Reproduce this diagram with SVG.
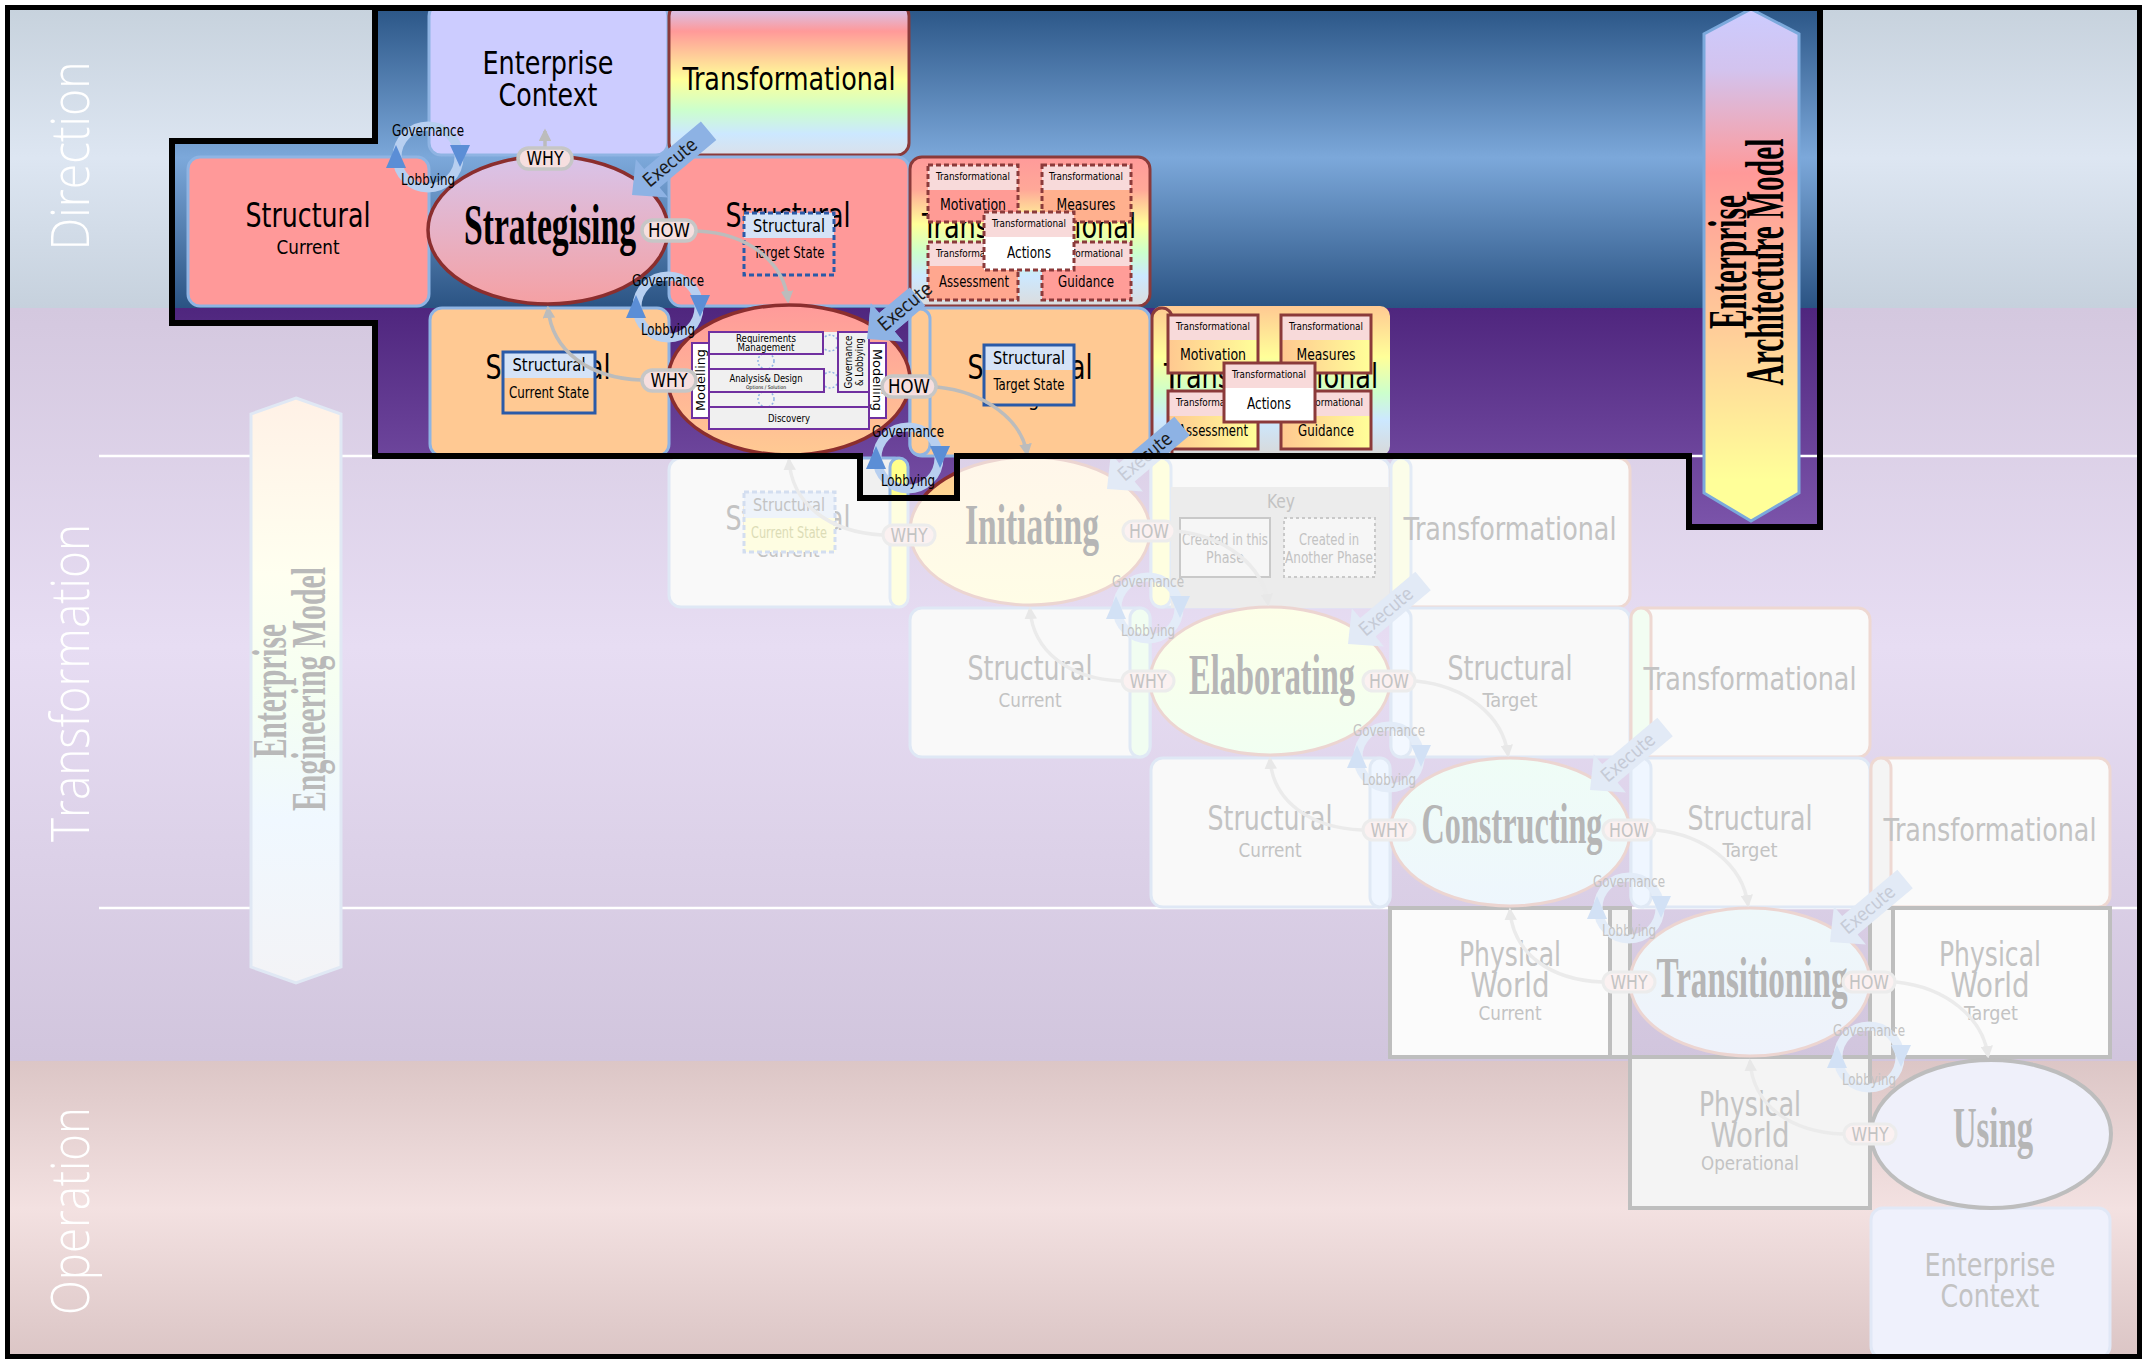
<svg xmlns="http://www.w3.org/2000/svg" width="2147" height="1360" viewBox="0 0 2147 1360">
<style>
.sn{font-family:"Liberation Sans Narrow","DejaVu Sans Condensed","Liberation Sans",Arial,sans-serif;text-anchor:middle}
.sf{font-family:"Liberation Serif","DejaVu Serif","Times New Roman",serif;font-weight:bold;text-anchor:middle}
.bd{font-family:"Open Sans","Liberation Sans",sans-serif;font-weight:300;text-anchor:middle;fill:#ffffff}
.bx{stroke:#8fb4e3;stroke-width:3}
.fbx{fill:#f9f9f9;stroke:#dfe8f5;stroke-width:3}
.ftr{fill:#fafafa;stroke:#eed8d2;stroke-width:3}
.ft{fill:#c3c3c3}
.dr{fill:none;stroke:#8b3a3a;stroke-width:3}
.drd{fill:none;stroke:#8b3a3a;stroke-width:3;stroke-dasharray:5 3}
.pill{fill:#f6dfdf;stroke:#c6c6c6;stroke-width:3.5}
.fpill{fill:#fbf1f1;stroke:#ececec;stroke-width:3}
.con{fill:none;stroke:#bcbcbc;stroke-width:3.5}
.fcon{fill:none;stroke:#ebebeb;stroke-width:3.5}
.ring{fill:none;stroke:#b7cff0;stroke-width:9}
.fring{fill:none;stroke:#e3ecf8;stroke-width:9}
.tri{fill:#5b8ed6}
.ftri{fill:#d2e1f5}
.ex{fill:#8db2e4}
.fex{fill:#e2eaf6}
.pb{fill:#f0f0f0;stroke:#7030a0;stroke-width:2}
.pw{fill:#ffffff;stroke:#7030a0;stroke-width:2}
.phys{fill:#fbfbfb;stroke:#bebebe;stroke-width:4}
</style>
<defs>
  <linearGradient id="bgDir" x1="0" y1="0" x2="0" y2="1">
    <stop offset="0" stop-color="#c7d2dd"/><stop offset="0.5" stop-color="#dde6f2"/><stop offset="1" stop-color="#c6d1dd"/>
  </linearGradient>
  <linearGradient id="bgTra" x1="0" y1="0" x2="0" y2="1">
    <stop offset="0" stop-color="#d4c8df"/><stop offset="0.45" stop-color="#e7ddf3"/><stop offset="1" stop-color="#d1c5dd"/>
  </linearGradient>
  <linearGradient id="bgOp" x1="0" y1="0" x2="0" y2="1">
    <stop offset="0" stop-color="#dcc6c6"/><stop offset="0.5" stop-color="#f3e1e1"/><stop offset="1" stop-color="#dbc5c5"/>
  </linearGradient>
  <linearGradient id="hlBlue" gradientUnits="userSpaceOnUse" x1="0" y1="8" x2="0" y2="308">
    <stop offset="0" stop-color="#2b5687"/><stop offset="0.5" stop-color="#7ca8da"/><stop offset="1" stop-color="#2a5383"/>
  </linearGradient>
  <linearGradient id="hlPurple" gradientUnits="userSpaceOnUse" x1="0" y1="308" x2="0" y2="527">
    <stop offset="0" stop-color="#4f267e"/><stop offset="1" stop-color="#7b54aa"/>
  </linearGradient>
  <linearGradient id="gStrat" x1="0" y1="0" x2="0" y2="1">
    <stop offset="0" stop-color="#d8c4ea"/><stop offset="1" stop-color="#f5a0a3"/>
  </linearGradient>
  <linearGradient id="gModel" x1="0" y1="0" x2="0" y2="1">
    <stop offset="0" stop-color="#ff9a9a"/><stop offset="1" stop-color="#ffca93"/>
  </linearGradient>
  <linearGradient id="gInit" x1="0" y1="0" x2="0" y2="1">
    <stop offset="0" stop-color="#ffc993"/><stop offset="1" stop-color="#ffff99"/>
  </linearGradient>
  <linearGradient id="rbTop" x1="0" y1="0" x2="0" y2="1">
    <stop offset="0" stop-color="#ccccff"/><stop offset="0.18" stop-color="#ff9999"/><stop offset="0.34" stop-color="#ffcc99"/><stop offset="0.5" stop-color="#ffff99"/><stop offset="0.7" stop-color="#ccffcc"/><stop offset="0.86" stop-color="#cce8ff"/><stop offset="1" stop-color="#dae0ea"/>
  </linearGradient>
  <linearGradient id="rbRed" x1="0" y1="0" x2="0" y2="1">
    <stop offset="0" stop-color="#ff9a9a"/><stop offset="0.22" stop-color="#ffa898"/><stop offset="0.45" stop-color="#ffff99"/><stop offset="0.64" stop-color="#ccffcc"/><stop offset="0.8" stop-color="#cce8ff"/><stop offset="1" stop-color="#dcdcdc"/>
  </linearGradient>
  <linearGradient id="rbPeach" x1="0" y1="0" x2="0" y2="1">
    <stop offset="0" stop-color="#ffc993"/><stop offset="0.34" stop-color="#ffff99"/><stop offset="0.58" stop-color="#ccffcc"/><stop offset="0.76" stop-color="#cce8ff"/><stop offset="1" stop-color="#d8d8d8"/>
  </linearGradient>
  <linearGradient id="subPeach" x1="0" y1="0" x2="1" y2="0">
    <stop offset="0" stop-color="#ffc890"/><stop offset="1" stop-color="#ffff99"/>
  </linearGradient>
  <linearGradient id="gEam" x1="0" y1="0" x2="0" y2="1">
    <stop offset="0" stop-color="#ccccff"/><stop offset="0.12" stop-color="#d3c3ee"/><stop offset="0.32" stop-color="#ff9999"/><stop offset="0.62" stop-color="#ffcc99"/><stop offset="0.92" stop-color="#ffff99"/><stop offset="1" stop-color="#ffff99"/>
  </linearGradient>
  <linearGradient id="gEem" x1="0" y1="0" x2="0" y2="1">
    <stop offset="0" stop-color="#fff1e6"/><stop offset="0.3" stop-color="#fffff0"/><stop offset="0.5" stop-color="#f5fff2"/><stop offset="0.72" stop-color="#f0f8ff"/><stop offset="1" stop-color="#f3f3f6"/>
  </linearGradient>
  <linearGradient id="fInit" x1="0" y1="0" x2="0" y2="1">
    <stop offset="0" stop-color="#fff6ea"/><stop offset="1" stop-color="#fffde6"/>
  </linearGradient>
  <linearGradient id="fElab" x1="0" y1="0" x2="0" y2="1">
    <stop offset="0" stop-color="#fdffe8"/><stop offset="1" stop-color="#f1fff2"/>
  </linearGradient>
  <linearGradient id="fCons" x1="0" y1="0" x2="0" y2="1">
    <stop offset="0" stop-color="#effdf6"/><stop offset="1" stop-color="#eef6fd"/>
  </linearGradient>
  <linearGradient id="fTran" x1="0" y1="0" x2="0" y2="1">
    <stop offset="0" stop-color="#eef8fa"/><stop offset="1" stop-color="#eef2fb"/>
  </linearGradient>
  <marker id="arr" viewBox="0 0 10 10" refX="8" refY="5" markerWidth="3.6" markerHeight="3.6" orient="auto">
    <path d="M0,0 L10,5 L0,10 Z" fill="#bcbcbc"/>
  </marker>
  <marker id="farr" viewBox="0 0 10 10" refX="8" refY="5" markerWidth="3.6" markerHeight="3.6" orient="auto">
    <path d="M0,0 L10,5 L0,10 Z" fill="#e8e8e8"/>
  </marker>
  <clipPath id="hlClip">
    <path d="M375,8 H1820 V527 H1689 V456 H957 V498 H860 V456 H375 V323 H172 V141 H375 Z"/>
  </clipPath>
</defs>

<!-- swimlane bands -->
<g id="bands">
  <rect x="8" y="8" width="2132" height="300" fill="url(#bgDir)"/>
  <rect x="8" y="308" width="2132" height="753" fill="url(#bgTra)"/>
  <rect x="8" y="1061" width="2132" height="296" fill="url(#bgOp)"/>
  <path d="M99,456 H2140 M99,908 H2140" stroke="#ffffff" stroke-width="2.5" fill="none"/>
  <text class="bd" font-size="53" transform="translate(89,156) rotate(-90)" textLength="189" lengthAdjust="spacingAndGlyphs">Direction</text>
  <text class="bd" font-size="53" transform="translate(89,683) rotate(-90)" textLength="318" lengthAdjust="spacingAndGlyphs">Transformation</text>
  <text class="bd" font-size="53" transform="translate(89,1211) rotate(-90)" textLength="208" lengthAdjust="spacingAndGlyphs">Operation</text>
</g>

<!-- later phases, shown pale -->
<g id="later-phases">
  <g id="eem">
    <path d="M296,398 L341,414 L341,967 L296,983 L251,967 L251,414 Z" fill="url(#gEem)" stroke="#e0e8f4" stroke-width="3"/>
    <text class="sf" font-size="48" fill="#b9b9b9" transform="translate(286,691) rotate(-90)" textLength="134" lengthAdjust="spacingAndGlyphs">Enterprise</text>
    <text class="sf" font-size="48" fill="#b9b9b9" transform="translate(325,689) rotate(-90)" textLength="244" lengthAdjust="spacingAndGlyphs">Engineering Model</text>
  </g>

  <!-- row: Initiating -->
  <g id="init-current">
    <rect x="669" y="458" width="238" height="149" rx="12" class="fbx"/>
    <text class="sn ft" x="788" y="530" font-size="33" textLength="125" lengthAdjust="spacingAndGlyphs">Structural</text>
    <text class="sn ft" x="788" y="557" font-size="19" textLength="63" lengthAdjust="spacingAndGlyphs">Current</text>
    <rect x="744" y="492" width="91" height="26" fill="#eef3fa"/>
    <rect x="744" y="518" width="91" height="34" fill="#fefde2"/>
    <rect x="744" y="492" width="91" height="60" fill="none" stroke="#d3def0" stroke-width="3" stroke-dasharray="5 3"/>
    <text class="sn ft" x="789" y="511" font-size="17" textLength="72" lengthAdjust="spacingAndGlyphs">Structural</text>
    <text class="sn" x="789" y="538" font-size="15" fill="#dcdcb6" textLength="76" lengthAdjust="spacingAndGlyphs">Current State</text>
    <rect x="890" y="458" width="18" height="149" rx="9" fill="#fefee0" stroke="#e3ebf6" stroke-width="3"/>
  </g>
  <g id="init-target">
    <rect x="1151" y="458" width="239" height="149" rx="12" class="fbx"/>
    <rect x="1151" y="458" width="20" height="149" rx="10" fill="#fefee0" stroke="#e3ebf6" stroke-width="3"/>
  </g>
  <g id="key">
    <rect x="1171" y="487" width="220" height="121" fill="#ececec"/>
    <text class="sn ft" x="1281" y="508" font-size="20" textLength="28" lengthAdjust="spacingAndGlyphs">Key</text>
    <rect x="1180" y="518" width="90" height="59" fill="#f6f6f6" stroke="#c9c9c9" stroke-width="2"/>
    <text class="sn ft" x="1225" y="545" font-size="15" textLength="86" lengthAdjust="spacingAndGlyphs">Created in this</text>
    <text class="sn ft" x="1225" y="563" font-size="15" textLength="38" lengthAdjust="spacingAndGlyphs">Phase</text>
    <rect x="1284" y="518" width="91" height="59" fill="#f6f6f6" stroke="#c9c9c9" stroke-width="2" stroke-dasharray="3 3"/>
    <text class="sn ft" x="1329" y="545" font-size="15" textLength="60" lengthAdjust="spacingAndGlyphs">Created in</text>
    <text class="sn ft" x="1329" y="563" font-size="15" textLength="88" lengthAdjust="spacingAndGlyphs">Another Phase</text>
  </g>
  <g id="init-transformational">
    <rect x="1391" y="458" width="239" height="149" rx="12" class="ftr"/>
    <rect x="1391" y="458" width="20" height="149" rx="10" fill="#fbfde9" stroke="#e3ebf6" stroke-width="3"/>
    <text class="sn ft" x="1510" y="540" font-size="32" textLength="213" lengthAdjust="spacingAndGlyphs">Transformational</text>
  </g>

  <!-- row: Elaborating -->
  <g id="elab-current">
    <rect x="910" y="608" width="240" height="149" rx="12" class="fbx"/>
    <text class="sn ft" x="1030" y="680" font-size="33" textLength="125" lengthAdjust="spacingAndGlyphs">Structural</text>
    <text class="sn ft" x="1030" y="707" font-size="19" textLength="63" lengthAdjust="spacingAndGlyphs">Current</text>
    <rect x="1130" y="608" width="20" height="149" rx="10" fill="#f1fdf1" stroke="#e0e9f5" stroke-width="3"/>
  </g>
  <g id="elab-target">
    <rect x="1391" y="608" width="239" height="149" rx="12" class="fbx"/>
    <rect x="1391" y="608" width="20" height="149" rx="10" fill="#f3f8ff" stroke="#e0e9f5" stroke-width="3"/>
    <text class="sn ft" x="1510" y="680" font-size="33" textLength="125" lengthAdjust="spacingAndGlyphs">Structural</text>
    <text class="sn ft" x="1510" y="707" font-size="19" textLength="55" lengthAdjust="spacingAndGlyphs">Target</text>
  </g>
  <g id="elab-transformational">
    <rect x="1631" y="608" width="239" height="149" rx="12" class="ftr"/>
    <rect x="1631" y="608" width="20" height="149" rx="10" fill="#f2fdf2" stroke="#eed8d2" stroke-width="3"/>
    <text class="sn ft" x="1750" y="690" font-size="32" textLength="213" lengthAdjust="spacingAndGlyphs">Transformational</text>
  </g>

  <!-- row: Constructing -->
  <g id="cons-current">
    <rect x="1151" y="758" width="239" height="149" rx="12" class="fbx"/>
    <text class="sn ft" x="1270" y="830" font-size="33" textLength="125" lengthAdjust="spacingAndGlyphs">Structural</text>
    <text class="sn ft" x="1270" y="857" font-size="19" textLength="63" lengthAdjust="spacingAndGlyphs">Current</text>
    <rect x="1370" y="758" width="20" height="149" rx="10" fill="#eff6ff" stroke="#e0e9f5" stroke-width="3"/>
  </g>
  <g id="cons-target">
    <rect x="1631" y="758" width="239" height="149" rx="12" class="fbx"/>
    <rect x="1631" y="758" width="20" height="149" rx="10" fill="#eff6ff" stroke="#e0e9f5" stroke-width="3"/>
    <text class="sn ft" x="1750" y="830" font-size="33" textLength="125" lengthAdjust="spacingAndGlyphs">Structural</text>
    <text class="sn ft" x="1750" y="857" font-size="19" textLength="55" lengthAdjust="spacingAndGlyphs">Target</text>
  </g>
  <g id="cons-transformational">
    <rect x="1871" y="758" width="239" height="149" rx="12" class="ftr"/>
    <rect x="1871" y="758" width="20" height="149" rx="10" fill="#f4f4f4" stroke="#eed8d2" stroke-width="3"/>
    <text class="sn ft" x="1990" y="841" font-size="32" textLength="213" lengthAdjust="spacingAndGlyphs">Transformational</text>
  </g>

  <!-- row: Transitioning -->
  <g id="trans-current">
    <rect x="1390" y="908" width="220" height="149" class="phys"/>
    <rect x="1610" y="908" width="20" height="149" fill="#f5f5f5" stroke="#bebebe" stroke-width="4"/>
    <text class="sn ft" x="1510" y="966" font-size="33" textLength="102" lengthAdjust="spacingAndGlyphs">Physical</text>
    <text class="sn ft" x="1510" y="997" font-size="33" textLength="79" lengthAdjust="spacingAndGlyphs">World</text>
    <text class="sn ft" x="1510" y="1020" font-size="19" textLength="63" lengthAdjust="spacingAndGlyphs">Current</text>
  </g>
  <g id="trans-target">
    <rect x="1870" y="908" width="23" height="149" fill="#f5f5f5" stroke="#bebebe" stroke-width="4"/>
    <rect x="1893" y="908" width="217" height="149" class="phys"/>
    <text class="sn ft" x="1990" y="966" font-size="33" textLength="102" lengthAdjust="spacingAndGlyphs">Physical</text>
    <text class="sn ft" x="1990" y="997" font-size="33" textLength="79" lengthAdjust="spacingAndGlyphs">World</text>
    <text class="sn ft" x="1991" y="1020" font-size="19" textLength="54" lengthAdjust="spacingAndGlyphs">Target</text>
  </g>

  <!-- row: Using -->
  <g id="use-operational">
    <rect x="1630" y="1057" width="240" height="151" fill="#f4f4f4" stroke="#bebebe" stroke-width="4"/>
    <text class="sn ft" x="1750" y="1116" font-size="33" textLength="102" lengthAdjust="spacingAndGlyphs">Physical</text>
    <text class="sn ft" x="1750" y="1147" font-size="33" textLength="79" lengthAdjust="spacingAndGlyphs">World</text>
    <text class="sn ft" x="1750" y="1170" font-size="19" textLength="98" lengthAdjust="spacingAndGlyphs">Operational</text>
  </g>
  <g id="use-context">
    <rect x="1871" y="1208" width="239" height="150" rx="12" fill="#eff1fc" stroke="#e1e8f6" stroke-width="3"/>
    <text class="sn ft" x="1990" y="1276" font-size="32" textLength="131" lengthAdjust="spacingAndGlyphs">Enterprise</text>
    <text class="sn ft" x="1990" y="1307" font-size="32" textLength="99" lengthAdjust="spacingAndGlyphs">Context</text>
  </g>

  <!-- phase ellipses -->
  <g id="initiating">
    <ellipse cx="1030" cy="531" rx="120" ry="74" fill="url(#fInit)" stroke="#ecd5d1" stroke-width="3"/>
    <text class="sf" x="1032" y="544" font-size="57" fill="#b6b6b6" textLength="134" lengthAdjust="spacingAndGlyphs">Initiating</text>
  </g>
  <g id="elaborating">
    <ellipse cx="1270" cy="681" rx="120" ry="74" fill="url(#fElab)" stroke="#ecd5d1" stroke-width="3"/>
    <text class="sf" x="1272" y="694" font-size="57" fill="#b6b6b6" textLength="166" lengthAdjust="spacingAndGlyphs">Elaborating</text>
  </g>
  <g id="constructing">
    <ellipse cx="1510" cy="832" rx="120" ry="74" fill="url(#fCons)" stroke="#ecd5d1" stroke-width="3"/>
    <text class="sf" x="1512" y="843" font-size="57" fill="#b6b6b6" textLength="181" lengthAdjust="spacingAndGlyphs">Constructing</text>
  </g>
  <g id="transitioning">
    <ellipse cx="1750" cy="982" rx="120" ry="74" fill="url(#fTran)" stroke="#ecd5d1" stroke-width="3"/>
    <text class="sf" x="1752" y="997" font-size="57" fill="#b6b6b6" textLength="191" lengthAdjust="spacingAndGlyphs">Transitioning</text>
  </g>
  <g id="using">
    <ellipse cx="1991" cy="1134" rx="120" ry="74" fill="#eff0fa" stroke="#bdbdbd" stroke-width="4"/>
    <text class="sf" x="1993" y="1147" font-size="57" fill="#b6b6b6" textLength="80" lengthAdjust="spacingAndGlyphs">Using</text>
  </g>

  <g id="later-connectors">
    <path class="fcon" marker-end="url(#farr)" d="M882,535 C830,532 792,505 789,460"/>
    <path class="fcon" marker-end="url(#farr)" d="M1176,531 C1225,536 1263,565 1268,604"/>
    <path class="fcon" marker-end="url(#farr)" d="M1121,681 C1070,679 1033,652 1030,609"/>
    <path class="fcon" marker-end="url(#farr)" d="M1416,681 C1465,686 1503,715 1508,755"/>
    <path class="fcon" marker-end="url(#farr)" d="M1362,830 C1311,828 1273,802 1270,759"/>
    <path class="fcon" marker-end="url(#farr)" d="M1656,830 C1705,835 1743,865 1748,905"/>
    <path class="fcon" marker-end="url(#farr)" d="M1602,982 C1551,980 1513,954 1510,910"/>
    <path class="fcon" marker-end="url(#farr)" d="M1896,982 C1945,987 1983,1017 1988,1056"/>
    <path class="fcon" marker-end="url(#farr)" d="M1843,1134 C1791,1132 1753,1106 1750,1061"/>
  </g>

  <g id="later-why-how">
    <g><rect x="883" y="525" width="52" height="20" rx="10" class="fpill"/><text class="sn ft" x="909" y="542" font-size="19" textLength="37" lengthAdjust="spacingAndGlyphs">WHY</text></g>
    <g><rect x="1123" y="521" width="52" height="20" rx="10" class="fpill"/><text class="sn ft" x="1149" y="538" font-size="19" textLength="40" lengthAdjust="spacingAndGlyphs">HOW</text></g>
    <g><rect x="1122" y="671" width="52" height="20" rx="10" class="fpill"/><text class="sn ft" x="1148" y="688" font-size="19" textLength="37" lengthAdjust="spacingAndGlyphs">WHY</text></g>
    <g><rect x="1363" y="671" width="52" height="20" rx="10" class="fpill"/><text class="sn ft" x="1389" y="688" font-size="19" textLength="40" lengthAdjust="spacingAndGlyphs">HOW</text></g>
    <g><rect x="1363" y="820" width="52" height="20" rx="10" class="fpill"/><text class="sn ft" x="1389" y="837" font-size="19" textLength="37" lengthAdjust="spacingAndGlyphs">WHY</text></g>
    <g><rect x="1603" y="820" width="52" height="20" rx="10" class="fpill"/><text class="sn ft" x="1629" y="837" font-size="19" textLength="40" lengthAdjust="spacingAndGlyphs">HOW</text></g>
    <g><rect x="1603" y="972" width="52" height="20" rx="10" class="fpill"/><text class="sn ft" x="1629" y="989" font-size="19" textLength="37" lengthAdjust="spacingAndGlyphs">WHY</text></g>
    <g><rect x="1843" y="972" width="52" height="20" rx="10" class="fpill"/><text class="sn ft" x="1869" y="989" font-size="19" textLength="40" lengthAdjust="spacingAndGlyphs">HOW</text></g>
    <g><rect x="1844" y="1124" width="52" height="20" rx="10" class="fpill"/><text class="sn ft" x="1870" y="1141" font-size="19" textLength="37" lengthAdjust="spacingAndGlyphs">WHY</text></g>
  </g>

  <g id="later-governance">
    <g transform="translate(1148,608)"><circle r="31" class="fring"/><path class="ftri" d="M-42,11 L-22,11 L-32,-12 Z"/><path class="ftri" d="M22,-12 L42,-12 L32,10 Z"/><text class="sn ft" y="-21" font-size="16" textLength="72" lengthAdjust="spacingAndGlyphs">Governance</text><text class="sn ft" y="28" font-size="16" textLength="54" lengthAdjust="spacingAndGlyphs">Lobbying</text></g>
    <g transform="translate(1389,757)"><circle r="31" class="fring"/><path class="ftri" d="M-42,11 L-22,11 L-32,-12 Z"/><path class="ftri" d="M22,-12 L42,-12 L32,10 Z"/><text class="sn ft" y="-21" font-size="16" textLength="72" lengthAdjust="spacingAndGlyphs">Governance</text><text class="sn ft" y="28" font-size="16" textLength="54" lengthAdjust="spacingAndGlyphs">Lobbying</text></g>
    <g transform="translate(1629,908)"><circle r="31" class="fring"/><path class="ftri" d="M-42,11 L-22,11 L-32,-12 Z"/><path class="ftri" d="M22,-12 L42,-12 L32,10 Z"/><text class="sn ft" y="-21" font-size="16" textLength="72" lengthAdjust="spacingAndGlyphs">Governance</text><text class="sn ft" y="28" font-size="16" textLength="54" lengthAdjust="spacingAndGlyphs">Lobbying</text></g>
    <g transform="translate(1869,1057)"><circle r="31" class="fring"/><path class="ftri" d="M-42,11 L-22,11 L-32,-12 Z"/><path class="ftri" d="M22,-12 L42,-12 L32,10 Z"/><text class="sn ft" y="-21" font-size="16" textLength="72" lengthAdjust="spacingAndGlyphs">Governance</text><text class="sn ft" y="28" font-size="16" textLength="54" lengthAdjust="spacingAndGlyphs">Lobbying</text></g>
  </g>

  <g id="later-execute">
    <g transform="translate(1107,489) rotate(-40)"><path class="fex" d="M0,0 L26,-25 L26,-12 L98,-12 L98,12 L26,12 L26,25 Z"/><text class="sn" x="50" y="6" font-size="19" fill="#c6cbd6" textLength="64" lengthAdjust="spacingAndGlyphs">Execute</text></g>
    <g transform="translate(1348,644) rotate(-40)"><path class="fex" d="M0,0 L26,-25 L26,-12 L98,-12 L98,12 L26,12 L26,25 Z"/><text class="sn" x="50" y="6" font-size="19" fill="#c6cbd6" textLength="64" lengthAdjust="spacingAndGlyphs">Execute</text></g>
    <g transform="translate(1590,790) rotate(-40)"><path class="fex" d="M0,0 L26,-25 L26,-12 L98,-12 L98,12 L26,12 L26,25 Z"/><text class="sn" x="50" y="6" font-size="19" fill="#c6cbd6" textLength="64" lengthAdjust="spacingAndGlyphs">Execute</text></g>
    <g transform="translate(1830,942) rotate(-40)"><path class="fex" d="M0,0 L26,-25 L26,-12 L98,-12 L98,12 L26,12 L26,25 Z"/><text class="sn" x="50" y="6" font-size="19" fill="#c6cbd6" textLength="64" lengthAdjust="spacingAndGlyphs">Execute</text></g>
  </g>
</g>

<!-- Strategising and modelling phases, full colour -->
<g id="current-phase" clip-path="url(#hlClip)">
  <rect x="0" y="0" width="2147" height="308" fill="url(#hlBlue)"/>
  <rect x="0" y="308" width="2147" height="230" fill="url(#hlPurple)"/>
  <path d="M1689,456 H1820" stroke="#ffffff" stroke-width="2.5"/>

  <g id="enterprise-context">
    <rect x="429" y="4" width="239" height="151" rx="12" fill="#ccccff" class="bx"/>
    <text class="sn" x="548" y="74" font-size="32" textLength="131" lengthAdjust="spacingAndGlyphs">Enterprise</text>
    <text class="sn" x="548" y="106" font-size="32" textLength="99" lengthAdjust="spacingAndGlyphs">Context</text>
  </g>
  <g id="strat-transformational">
    <rect x="669" y="4" width="240" height="151" rx="12" fill="url(#rbTop)" stroke="#8b3a3a" stroke-width="3"/>
    <text class="sn" x="789" y="90" font-size="32" textLength="213" lengthAdjust="spacingAndGlyphs">Transformational</text>
  </g>
  <g id="strat-current">
    <rect x="188" y="157" width="241" height="149" rx="12" fill="#ff9999" class="bx"/>
    <text class="sn" x="308" y="227" font-size="33" textLength="125" lengthAdjust="spacingAndGlyphs">Structural</text>
    <text class="sn" x="308" y="254" font-size="19" textLength="63" lengthAdjust="spacingAndGlyphs">Current</text>
  </g>
  <g id="strat-target">
    <rect x="669" y="157" width="240" height="149" rx="12" fill="#ff9999" class="bx"/>
    <text class="sn" x="788" y="227" font-size="33" textLength="125" lengthAdjust="spacingAndGlyphs">Structural</text>
    <rect x="744" y="213" width="90" height="25" fill="#d5e3f7"/>
    <rect x="744" y="238" width="90" height="37" fill="#ff9999"/>
    <rect x="744" y="213" width="90" height="62" fill="none" stroke="#2a5aa8" stroke-width="3" stroke-dasharray="5 3"/>
    <text class="sn" x="789" y="232" font-size="17" textLength="72" lengthAdjust="spacingAndGlyphs">Structural</text>
    <text class="sn" x="789" y="258" font-size="15" textLength="71" lengthAdjust="spacingAndGlyphs">Target State</text>
  </g>

  <g id="current-execute-back">
    <g transform="translate(867,339) rotate(-40)"><path class="ex" d="M0,0 L26,-25 L26,-12 L96,-12 L96,12 L26,12 L26,25 Z"/></g>
  </g>

  <g id="strat-transformational-parts">
    <rect x="910" y="157" width="240" height="149" rx="12" fill="url(#rbRed)" stroke="#8b3a3a" stroke-width="3"/>
    <text class="sn" x="1029" y="238" font-size="34" textLength="214" lengthAdjust="spacingAndGlyphs">Transformational</text>
    <g id="strat-motivation">
      <rect x="928" y="165" width="90" height="25" fill="#f8dada"/><rect x="928" y="190" width="90" height="32" fill="#ff9b95"/>
      <rect x="928" y="165" width="90" height="57" class="drd"/>
      <text class="sn" x="973" y="180" font-size="11" textLength="74" lengthAdjust="spacingAndGlyphs">Transformational</text>
      <text class="sn" x="973" y="210" font-size="16" textLength="66" lengthAdjust="spacingAndGlyphs">Motivation</text>
    </g>
    <g id="strat-measures">
      <rect x="1042" y="165" width="89" height="25" fill="#f8dada"/><rect x="1042" y="190" width="89" height="32" fill="#ffb08e"/>
      <rect x="1042" y="165" width="89" height="57" class="drd"/>
      <text class="sn" x="1086" y="180" font-size="11" textLength="74" lengthAdjust="spacingAndGlyphs">Transformational</text>
      <text class="sn" x="1086" y="210" font-size="16" textLength="59" lengthAdjust="spacingAndGlyphs">Measures</text>
    </g>
    <g id="strat-assessment">
      <rect x="928" y="242" width="90" height="24" fill="#f8dada"/><rect x="928" y="266" width="90" height="34" fill="#ffa78f"/>
      <rect x="928" y="242" width="90" height="58" class="drd"/>
      <text class="sn" x="973" y="257" font-size="11" textLength="74" lengthAdjust="spacingAndGlyphs">Transformational</text>
      <text class="sn" x="974" y="287" font-size="16" textLength="70" lengthAdjust="spacingAndGlyphs">Assessment</text>
    </g>
    <g id="strat-guidance">
      <rect x="1042" y="242" width="89" height="24" fill="#f8dada"/><rect x="1042" y="266" width="89" height="34" fill="#ff9d98"/>
      <rect x="1042" y="242" width="89" height="58" class="drd"/>
      <text class="sn" x="1086" y="257" font-size="11" textLength="74" lengthAdjust="spacingAndGlyphs">Transformational</text>
      <text class="sn" x="1086" y="287" font-size="16" textLength="56" lengthAdjust="spacingAndGlyphs">Guidance</text>
    </g>
    <g id="strat-actions">
      <rect x="984" y="212" width="90" height="25" fill="#f8dada"/><rect x="984" y="237" width="90" height="33" fill="#ffffff"/>
      <rect x="984" y="212" width="90" height="58" class="drd"/>
      <text class="sn" x="1029" y="227" font-size="11" textLength="74" lengthAdjust="spacingAndGlyphs">Transformational</text>
      <text class="sn" x="1029" y="258" font-size="16" textLength="44" lengthAdjust="spacingAndGlyphs">Actions</text>
    </g>
  </g>

  <g id="model-current">
    <rect x="430" y="308" width="239" height="148" rx="12" fill="#ffc993" class="bx"/>
    <text class="sn" x="548" y="379" font-size="33" textLength="125" lengthAdjust="spacingAndGlyphs">Structural</text>
    <rect x="503" y="352" width="92" height="26" fill="#d5e3f7"/>
    <rect x="503" y="378" width="92" height="35" fill="#ffc993"/>
    <rect x="503" y="352" width="92" height="61" fill="none" stroke="#2a5aa8" stroke-width="3"/>
    <text class="sn" x="549" y="371" font-size="17" textLength="73" lengthAdjust="spacingAndGlyphs">Structural</text>
    <text class="sn" x="549" y="398" font-size="15" textLength="80" lengthAdjust="spacingAndGlyphs">Current State</text>
  </g>
  <g id="model-target">
    <rect x="910" y="308" width="240" height="148" rx="12" fill="#ffc993" class="bx"/>
    <rect x="910" y="309" width="20" height="146" rx="10" fill="#ffc993" class="bx"/>
    <text class="sn" x="1030" y="379" font-size="33" textLength="125" lengthAdjust="spacingAndGlyphs">Structural</text>
    <text class="sn" x="1030" y="406" font-size="19" textLength="55" lengthAdjust="spacingAndGlyphs">Target</text>
    <rect x="984" y="345" width="90" height="25" fill="#d5e3f7"/>
    <rect x="984" y="370" width="90" height="35" fill="#ffc993"/>
    <rect x="984" y="345" width="90" height="60" fill="none" stroke="#2a5aa8" stroke-width="3"/>
    <text class="sn" x="1029" y="364" font-size="17" textLength="72" lengthAdjust="spacingAndGlyphs">Structural</text>
    <text class="sn" x="1029" y="390" font-size="15" textLength="71" lengthAdjust="spacingAndGlyphs">Target State</text>
  </g>
  <g id="model-transformational-parts">
    <rect x="1152" y="306" width="238" height="150" rx="10" fill="url(#rbPeach)"/>
    <path d="M1152,456 V318 A10,10 0 0 1 1172,318 V456" fill="none" stroke="#8b3a3a" stroke-width="3"/>
    <text class="sn" x="1271" y="388" font-size="34" textLength="214" lengthAdjust="spacingAndGlyphs">Transformational</text>
    <g id="model-motivation">
      <rect x="1168" y="315" width="90" height="25" fill="#f8dada"/><rect x="1168" y="340" width="90" height="33" fill="url(#subPeach)"/>
      <rect x="1168" y="315" width="90" height="58" class="dr"/>
      <text class="sn" x="1213" y="330" font-size="11" textLength="74" lengthAdjust="spacingAndGlyphs">Transformational</text>
      <text class="sn" x="1213" y="360" font-size="16" textLength="66" lengthAdjust="spacingAndGlyphs">Motivation</text>
    </g>
    <g id="model-measures">
      <rect x="1281" y="315" width="90" height="25" fill="#f8dada"/><rect x="1281" y="340" width="90" height="33" fill="url(#subPeach)"/>
      <rect x="1281" y="315" width="90" height="58" class="dr"/>
      <text class="sn" x="1326" y="330" font-size="11" textLength="74" lengthAdjust="spacingAndGlyphs">Transformational</text>
      <text class="sn" x="1326" y="360" font-size="16" textLength="59" lengthAdjust="spacingAndGlyphs">Measures</text>
    </g>
    <g id="model-assessment">
      <rect x="1168" y="391" width="90" height="25" fill="#f8dada"/><rect x="1168" y="416" width="90" height="33" fill="url(#subPeach)"/>
      <rect x="1168" y="391" width="90" height="58" class="dr"/>
      <text class="sn" x="1213" y="406" font-size="11" textLength="74" lengthAdjust="spacingAndGlyphs">Transformational</text>
      <text class="sn" x="1213" y="436" font-size="16" textLength="70" lengthAdjust="spacingAndGlyphs">Assessment</text>
    </g>
    <g id="model-guidance">
      <rect x="1281" y="391" width="90" height="25" fill="#f8dada"/><rect x="1281" y="416" width="90" height="33" fill="url(#subPeach)"/>
      <rect x="1281" y="391" width="90" height="58" class="dr"/>
      <text class="sn" x="1326" y="406" font-size="11" textLength="74" lengthAdjust="spacingAndGlyphs">Transformational</text>
      <text class="sn" x="1326" y="436" font-size="16" textLength="56" lengthAdjust="spacingAndGlyphs">Guidance</text>
    </g>
    <g id="model-actions">
      <rect x="1224" y="363" width="91" height="25" fill="#f8dada"/><rect x="1224" y="388" width="91" height="34" fill="#ffffff"/>
      <rect x="1224" y="363" width="91" height="59" class="dr"/>
      <text class="sn" x="1269" y="378" font-size="11" textLength="74" lengthAdjust="spacingAndGlyphs">Transformational</text>
      <text class="sn" x="1269" y="409" font-size="16" textLength="44" lengthAdjust="spacingAndGlyphs">Actions</text>
    </g>
  </g>

  <!-- next phase pieces reaching into the notch -->
  <g id="init-current-notch">
    <rect x="669" y="458" width="238" height="149" rx="12" fill="#f0f0f0" class="bx"/>
    <rect x="890" y="458" width="18" height="149" rx="9" fill="#ffff8c" class="bx"/>
  </g>
  <g id="initiating-notch">
    <ellipse cx="1030" cy="531" rx="120" ry="74" fill="url(#gInit)" stroke="#8b2e2e" stroke-width="3.5"/>
  </g>

  <g id="strategising">
    <ellipse cx="548" cy="230" rx="120" ry="74" fill="url(#gStrat)" stroke="#8b2e2e" stroke-width="3.5"/>
    <text class="sf" x="550" y="244" font-size="57" textLength="172" lengthAdjust="spacingAndGlyphs">Strategising</text>
  </g>

  <g id="modelling">
    <ellipse cx="789" cy="380" rx="121" ry="75" fill="url(#gModel)" stroke="#8b2e2e" stroke-width="3.5"/>
    <rect x="709" y="332" width="160" height="97" fill="#f2f2f2"/>
    <circle cx="766" cy="361" r="8" fill="#f2f2f2" stroke="#8fb3e3" stroke-width="1.5" stroke-dasharray="2 2"/>
    <circle cx="766" cy="399" r="8" fill="#f2f2f2" stroke="#8fb3e3" stroke-width="1.5" stroke-dasharray="2 2"/>
    <circle cx="830" cy="343" r="8" fill="#f2f2f2" stroke="#8fb3e3" stroke-width="1.5" stroke-dasharray="2 2"/>
    <circle cx="830" cy="380" r="8" fill="#f2f2f2" stroke="#8fb3e3" stroke-width="1.5" stroke-dasharray="2 2"/>
    <rect x="692" y="343" width="17" height="75" class="pw"/>
    <text class="sn" font-size="12" transform="translate(705,380) rotate(-90)" textLength="62" lengthAdjust="spacingAndGlyphs">Modelling</text>
    <rect x="869" y="343" width="17" height="75" class="pw"/>
    <text class="sn" font-size="12" transform="translate(873,380) rotate(90)" textLength="62" lengthAdjust="spacingAndGlyphs">Modelling</text>
    <rect x="709" y="332" width="114" height="22" class="pb"/>
    <text class="sn" x="766" y="342" font-size="10" textLength="60" lengthAdjust="spacingAndGlyphs">Requirements</text>
    <text class="sn" x="766" y="351" font-size="10" textLength="57" lengthAdjust="spacingAndGlyphs">Management</text>
    <rect x="709" y="369" width="115" height="23" class="pb"/>
    <text class="sn" x="766" y="382" font-size="11" textLength="73" lengthAdjust="spacingAndGlyphs">Analysis&amp; Design</text>
    <text class="sn" x="766" y="389" font-size="5" textLength="40" lengthAdjust="spacingAndGlyphs">Options / Solution</text>
    <rect x="709" y="407" width="160" height="22" class="pb"/>
    <text class="sn" x="789" y="422" font-size="11" textLength="42" lengthAdjust="spacingAndGlyphs">Discovery</text>
    <rect x="838" y="332" width="31" height="60" class="pb"/>
    <text class="sn" font-size="10" transform="translate(852,362) rotate(-90)" textLength="53" lengthAdjust="spacingAndGlyphs">Governance</text>
    <text class="sn" font-size="10" transform="translate(863,362) rotate(-90)" textLength="48" lengthAdjust="spacingAndGlyphs">&amp; Lobbying</text>
  </g>

  <g id="current-connectors">
    <path class="con" marker-end="url(#arr)" d="M545,148 L545,131"/>
    <path class="con" marker-end="url(#arr)" d="M697,231 C748,233 784,262 788,301"/>
    <path class="con" marker-end="url(#arr)" d="M641,380 C590,378 552,352 548,308"/>
    <path class="con" marker-end="url(#arr)" d="M937,387 C985,392 1022,420 1027,454"/>
  </g>

  <g id="current-why-how">
    <g><rect x="518" y="148" width="54" height="21" rx="10.5" class="pill"/><text class="sn" x="545" y="165" font-size="19" textLength="37" lengthAdjust="spacingAndGlyphs">WHY</text></g>
    <g><rect x="642" y="220" width="54" height="21" rx="10.5" class="pill"/><text class="sn" x="669" y="237" font-size="19" textLength="42" lengthAdjust="spacingAndGlyphs">HOW</text></g>
    <g><rect x="642" y="370" width="54" height="21" rx="10.5" class="pill"/><text class="sn" x="669" y="387" font-size="19" textLength="37" lengthAdjust="spacingAndGlyphs">WHY</text></g>
    <g><rect x="882" y="376" width="54" height="21" rx="10.5" class="pill"/><text class="sn" x="909" y="393" font-size="19" textLength="42" lengthAdjust="spacingAndGlyphs">HOW</text></g>
  </g>

  <g id="current-governance">
    <g transform="translate(428,157)"><circle r="31" class="ring"/><path class="tri" d="M-42,11 L-22,11 L-32,-12 Z"/><path class="tri" d="M22,-12 L42,-12 L32,10 Z"/><text class="sn" y="-21" font-size="16" textLength="72" lengthAdjust="spacingAndGlyphs">Governance</text><text class="sn" y="28" font-size="16" textLength="54" lengthAdjust="spacingAndGlyphs">Lobbying</text></g>
    <g transform="translate(668,307)"><circle r="31" class="ring"/><path class="tri" d="M-42,11 L-22,11 L-32,-12 Z"/><path class="tri" d="M22,-12 L42,-12 L32,10 Z"/><text class="sn" y="-21" font-size="16" textLength="72" lengthAdjust="spacingAndGlyphs">Governance</text><text class="sn" y="28" font-size="16" textLength="54" lengthAdjust="spacingAndGlyphs">Lobbying</text></g>
    <g transform="translate(908,458)"><circle r="31" class="ring"/><path class="tri" d="M-42,11 L-22,11 L-32,-12 Z"/><path class="tri" d="M22,-12 L42,-12 L32,10 Z"/><text class="sn" y="-21" font-size="16" textLength="72" lengthAdjust="spacingAndGlyphs">Governance</text><text class="sn" y="28" font-size="16" textLength="54" lengthAdjust="spacingAndGlyphs">Lobbying</text></g>
  </g>

  <g id="current-execute">
    <g transform="translate(632,195) rotate(-40)"><path class="ex" d="M0,0 L26,-25 L26,-12 L100,-12 L100,12 L26,12 L26,25 Z"/><text class="sn" x="50" y="6" font-size="19" fill="#1a1a1a" textLength="64" lengthAdjust="spacingAndGlyphs">Execute</text></g>
    <g transform="translate(867,339) rotate(-40)"><path class="ex" d="M0,0 L26,-25 L26,-12 L66,-12 L66,12 L26,12 L26,25 Z"/><text class="sn" x="50" y="6" font-size="19" fill="#1a1a1a" textLength="64" lengthAdjust="spacingAndGlyphs">Execute</text></g>
    <g transform="translate(1107,489) rotate(-40)"><path class="ex" d="M0,0 L26,-25 L26,-12 L98,-12 L98,12 L26,12 L26,25 Z"/><text class="sn" x="50" y="6" font-size="19" fill="#1a1a1a" textLength="64" lengthAdjust="spacingAndGlyphs">Execute</text></g>
  </g>
</g>

<!-- architecture model banner, lying wholly inside the current phase area -->
<g id="eam">
  <path d="M1751,9 L1799,34 L1799,493 L1751,521 L1704,493 L1704,34 Z" fill="url(#gEam)" stroke="#7ba9dc" stroke-width="3"/>
  <text class="sf" font-size="54" transform="translate(1746,262) rotate(-90)" textLength="134" lengthAdjust="spacingAndGlyphs">Enterprise</text>
  <text class="sf" font-size="54" transform="translate(1783,262) rotate(-90)" textLength="247" lengthAdjust="spacingAndGlyphs">Architecture Model</text>
</g>

<path id="current-phase-outline" d="M375,8 H1820 V527 H1689 V456 H957 V498 H860 V456 H375 V323 H172 V141 H375 Z" fill="none" stroke="#000000" stroke-width="6"/>
<rect id="frame" x="7.5" y="7.5" width="2132" height="1349" fill="none" stroke="#000000" stroke-width="5"/>
</svg>
